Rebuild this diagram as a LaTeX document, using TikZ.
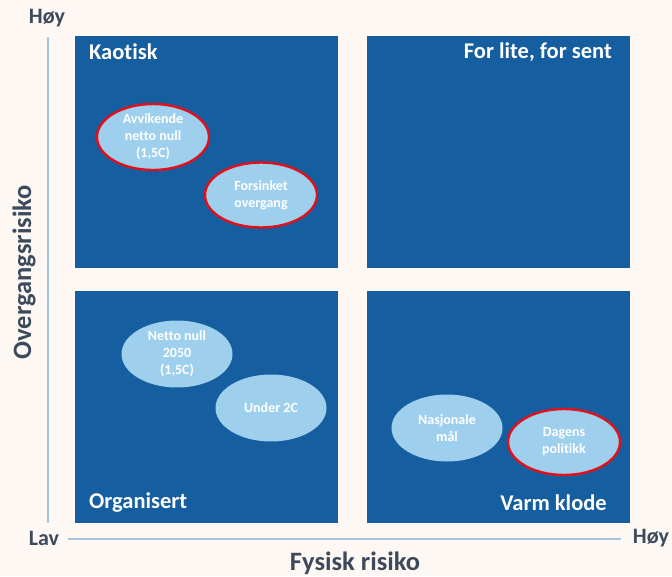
\documentclass[tikz,border=0pt]{standalone}
\usepackage{fontspec}
\setmainfont{Carlito}[Ligatures=NoCommon]
\usetikzlibrary{shapes.geometric}
\definecolor{bg}{HTML}{FDF8F4}
\definecolor{quad}{HTML}{155E9F}
\definecolor{ell}{HTML}{9ED0EE}
\definecolor{redb}{HTML}{E3101B}
\definecolor{axisc}{HTML}{A9C3DC}
\definecolor{lab}{HTML}{3C4A5C}
\tikzset{
  quadbox/.style={fill=quad, draw=none, anchor=north west, minimum width=263pt, minimum height=232pt, inner sep=0pt},
  scen/.style={ellipse, fill=ell, draw=none, minimum width=111pt, minimum height=67pt, inner sep=0pt, align=center, text=white, font=\bfseries\fontsize{14}{17}\selectfont},
  hot/.style={draw=redb, line width=2.4pt},
  qtitle/.style={text=white, font=\bfseries\fontsize{22.5}{26}\selectfont, inner sep=0pt},
  axlab/.style={text=lab, font=\bfseries\fontsize{22}{26}\selectfont, inner sep=0pt},
  axtitle/.style={text=lab, font=\bfseries\fontsize{26.5}{30}\selectfont, inner sep=0pt},
  axline/.style={draw=axisc, line width=1.3pt}
}
\begin{document}
\begin{tikzpicture}[x=1pt,y=-1pt]
\fill[bg] (0,0) rectangle (672,576);
\useasboundingbox (0,0) rectangle (672,576);
% quadrants
\node[quadbox] (q1) at (75,36) {};
\node[quadbox] (q2) at (367,36) {};
\node[quadbox] (q3) at (75,291) {};
\node[quadbox] (q4) at (367,291) {};
% quadrant titles
\node[qtitle, anchor=west] (t1) at (89,52) {Kaotisk};
\node[qtitle, anchor=east] (t2) at (612,52) {For lite, for sent};
\node[qtitle, anchor=west] (t3) at (89,503) {Organisert};
\node[qtitle, anchor=east] (t4) at (607,503) {Varm klode};
% scenarios
\node[scen, hot, minimum width=112pt, minimum height=66pt] (s1) at (153,137) {Avvikende\\netto null\\(1,5C)};
\node[scen, hot, minimum width=112pt, minimum height=65pt] (s2) at (261,195) {Forsinket\\overgang};
\node[scen] (s3) at (177,354) {Netto null\\2050\\(1,5C)};
\node[scen] (s4) at (271,408) {Under 2C};
\node[scen] (s5) at (447,428) {Nasjonale\\mål};
\node[scen, hot, minimum width=112pt, minimum height=66pt] (s6) at (564,442) {Dagens\\politikk};
% axes
\coordinate (vtop) at (48,37);
\coordinate (vbot) at (48,523);
\coordinate (hl) at (68,539);
\coordinate (hr) at (621,539);
\draw[axline] (vtop) -- (vbot);
\draw[axline] (hl) -- (hr);
\node[axlab] (hy) at (47,18) {Høy};
\node[axlab] (lv) at (44,538) {Lav};
\node[axlab] (hx) at (651,538) {Høy};
\node[axtitle] (xt) at (355,563) {Fysisk risiko};
\node[axtitle, rotate=90] (yt) at (24,272) {Overgangsrisiko};
\end{tikzpicture}
\end{document}
